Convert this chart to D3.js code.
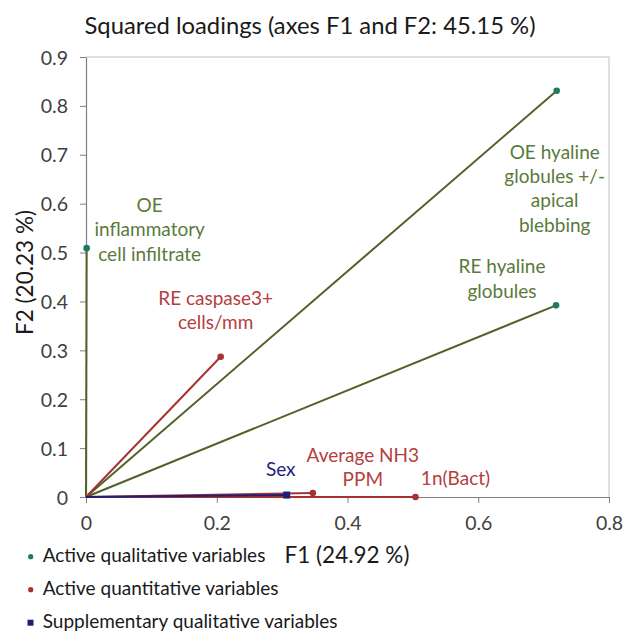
<!DOCTYPE html>
<html>
<head>
<meta charset="utf-8">
<script src="https://cdn.jsdelivr.net/npm/d3@7"></script>
<style>
html,body{margin:0;padding:0;background:#fff;}
svg{display:block;font-family:Lato, "Open Sans", sans-serif;}
</style>
</head>
<body>
<svg id="chart" width="623" height="634"></svg>
<script>
// ---- data ----
const titleText = "Squared loadings (axes F1 and F2: 45.15 %)";
const xTitle = "F1 (24.92 %)";
const yTitle = "F2 (20.23 %)";
const xTicks = [0, 0.2, 0.4, 0.6, 0.8];
const yTicks = [0, 0.1, 0.2, 0.3, 0.4, 0.5, 0.6, 0.7, 0.8, 0.9];

const qualNames = [["OE hyaline", "globules +/-", "apical", "blebbing"], ["RE hyaline", "globules"], ["OE", "inflammatory", "cell infiltrate"]];
const qualF1 = [0.720, 0.719, 0.001];
const qualF2 = [0.831, 0.392, 0.509];

const quantNames = [["RE caspase3+", "cells/mm"], ["Average NH3", "PPM"], ["1n(Bact)"]];
const quantF1 = [0.206, 0.347, 0.504];
const quantF2 = [0.287, 0.008, 0.000];

const suppNames = [["Sex"]];
const suppF1 = [0.307];
const suppF2 = [0.004];

const legendLabels = ["Active qualitative variables", "Active quantitative variables", "Supplementary qualitative variables"];

// ---- layout ----
const svg = d3.select("#chart");
const x = d3.scaleLinear().domain([0, 0.8]).range([86, 609]);
const y = d3.scaleLinear().domain([0, 0.9]).range([497, 57]);

const green = "#4f6228", dotGreen = "#1e7b5e", red = "#a83232", labelRed = "#b5403e", navy = "#1f1f78", labelGreen = "#5a7a3c";

// border
svg.append("line").attr("x1", x(0)).attr("x2", x(0.8)).attr("y1", y(0.9)).attr("y2", y(0.9)).attr("stroke", "#bfbfbf");
svg.append("line").attr("x1", x(0.8)).attr("x2", x(0.8)).attr("y1", y(0.9)).attr("y2", y(0)).attr("stroke", "#bfbfbf");

// axes
const fmt = d => d === 0 ? "0" : d3.format(".1f")(d);
const xAxis = svg.append("g").attr("transform", `translate(0,${y(0)})`)
  .call(d3.axisBottom(x).tickValues(xTicks).tickFormat(fmt).tickSize(6).tickSizeOuter(0));
const yAxis = svg.append("g").attr("transform", `translate(${x(0)},0)`)
  .call(d3.axisLeft(y).tickValues(yTicks).tickFormat(fmt).tickSize(6).tickSizeOuter(0));
[xAxis, yAxis].forEach(g => {
  g.select(".domain").attr("stroke", "#808080").attr("stroke-width", 1.2);
  g.selectAll(".tick line").attr("stroke", "#808080");
  g.selectAll(".tick text").attr("fill", "#404040").style("font-size", "19.5px").style("font-family", "Lato, sans-serif");
});
xAxis.selectAll(".tick text").attr("y", 0).attr("dy", 33);
yAxis.selectAll(".tick text").attr("x", -18).attr("dy", "0.36em");

// vectors
function drawSeries(f1, f2, lineColor, markColor, square) {
  f1.forEach((v, i) => {
    svg.append("line").attr("x1", x(0)).attr("y1", y(0)).attr("x2", x(v)).attr("y2", y(f2[i]))
      .attr("stroke", lineColor).attr("stroke-width", 2);
  });
  f1.forEach((v, i) => {
    if (square) {
      svg.append("rect").attr("x", x(v) - 3.5).attr("y", y(f2[i]) - 3.5).attr("width", 7).attr("height", 7).attr("fill", markColor);
    } else {
      svg.append("circle").attr("cx", x(v)).attr("cy", y(f2[i])).attr("r", 3.3).attr("fill", markColor);
    }
  });
}
drawSeries(qualF1, qualF2, green, dotGreen, false);
drawSeries(quantF1, quantF2, red, red, false);
drawSeries(suppF1, suppF2, navy, navy, true);

// labels (pixel offsets from point to first-line baseline centre)
const qualOffsets = [[-2, 68], [-54, -32], [63, -36]];
const quantOffsets = [[-5, -52], [50, -31], [40, -12]];
const suppOffsets = [[-6, -19]];
function drawLabels(names, f1, f2, offsets, color) {
  names.forEach((lines, i) => {
    const t = svg.append("text").attr("text-anchor", "middle").attr("fill", color).style("font-size", "19px");
    lines.forEach((ln, j) => {
      t.append("tspan").attr("x", x(f1[i]) + offsets[i][0]).attr("y", y(f2[i]) + offsets[i][1] + j * 24.3).text(ln);
    });
  });
}
drawLabels(qualNames, qualF1, qualF2, qualOffsets, labelGreen);
drawLabels(quantNames, quantF1, quantF2, quantOffsets, labelRed);
drawLabels(suppNames, suppF1, suppF2, suppOffsets, navy);

// titles
svg.append("text").attr("x", 310).attr("y", 34).attr("text-anchor", "middle").attr("fill", "#1a1a1a").style("font-size", "23.8px").text(titleText);
svg.append("text").attr("x", 347).attr("y", 563).attr("text-anchor", "middle").attr("fill", "#1a1a1a").style("font-size", "22.5px").text(xTitle);
svg.append("text").attr("transform", `translate(33,272.5) rotate(-90)`).attr("text-anchor", "middle").attr("fill", "#1a1a1a").style("font-size", "22.5px").text(yTitle);

// legend
const legendColors = [dotGreen, red, navy];
legendLabels.forEach((lab, i) => {
  const ly = 556.7 + i * 33;
  if (i === 2) {
    svg.append("rect").attr("x", 27.5).attr("y", ly - 3).attr("width", 6).attr("height", 6).attr("fill", legendColors[i]);
  } else {
    svg.append("circle").attr("cx", 30.7).attr("cy", ly).attr("r", 2.6).attr("fill", legendColors[i]);
  }
  svg.append("text").attr("x", 42.7).attr("y", ly + 5.5).attr("fill", "#1a1a1a").style("font-size", "19px").text(lab);
});
</script>
</body>
</html>
